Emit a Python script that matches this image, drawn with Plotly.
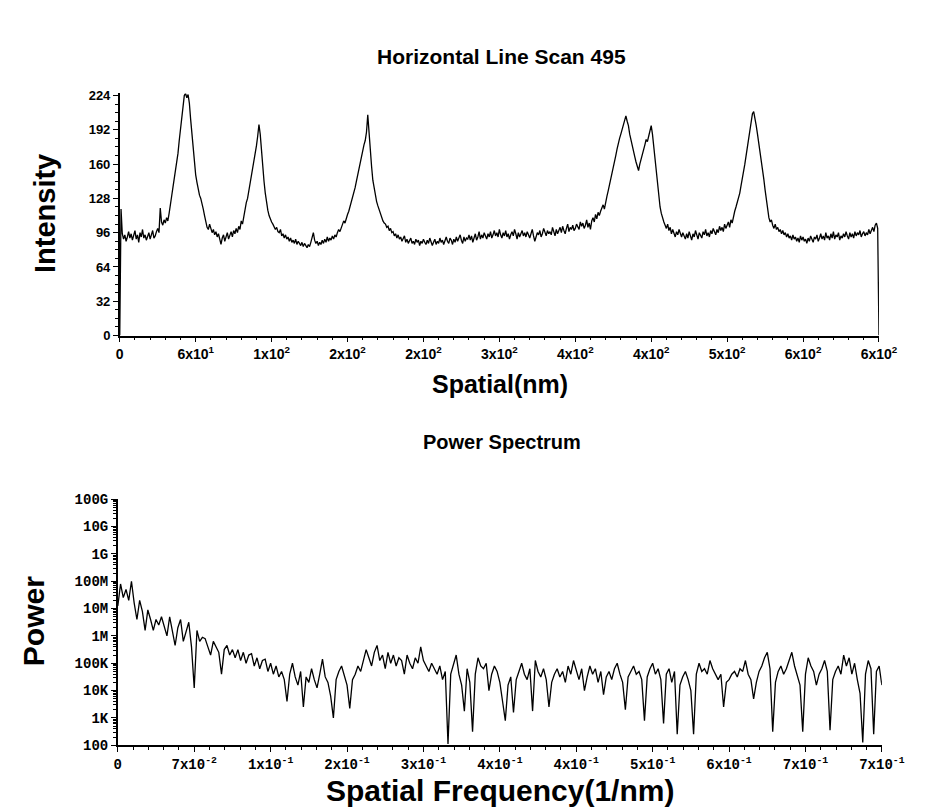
import plotly.graph_objects as go

# ---------------- data: top panel (line scan, 1 nm steps) ----------------
intensity = [
    0, 118, 95, 90, 94, 88, 92, 97, 91, 95, 89, 93, 98, 90, 94, 87, 96, 92, 99, 91,
    94, 89, 92, 96, 90, 95, 98, 91, 93, 97, 100, 96, 119, 106, 103, 108, 105, 110, 107, 114,
    124, 130, 138, 145, 156, 162, 170, 182, 194, 206, 218, 224, 226, 222, 225, 217, 202, 188, 174, 160,
    150, 143, 136, 131, 128, 124, 118, 112, 105, 101, 99, 104, 100, 96, 99, 94, 97, 92, 95, 89,
    85, 91, 94, 88, 92, 96, 90, 94, 97, 92, 98, 95, 100, 96, 102, 99, 107, 104, 112, 117,
    124, 128, 135, 140, 147, 152, 160, 168, 177, 186, 197, 188, 170, 156, 144, 133, 124, 117, 112, 108,
    106, 104, 102, 99, 101, 97, 96, 99, 93, 95, 91, 94, 90, 92, 88, 91, 87, 89, 86, 90,
    85, 88, 86, 84, 87, 83, 86, 84, 82, 85, 83, 87, 92, 96, 89, 86, 88, 84, 87, 85,
    89, 86, 90, 87, 92, 88, 91, 89, 93, 90, 94, 92, 96, 99, 97, 101, 104, 107, 105, 110,
    113, 116, 120, 124, 128, 133, 138, 144, 150, 155, 160, 166, 172, 178, 182, 190, 206, 186, 172, 158,
    145, 137, 130, 125, 121, 117, 113, 110, 107, 105, 104, 101, 102, 98, 100, 96, 97, 93, 95, 91,
    94, 90, 92, 88, 91, 93, 87, 90, 86, 89, 91, 86, 88, 85, 90, 87, 89, 84, 88, 86,
    90, 87, 85, 89, 86, 91, 88, 84, 87, 90, 85, 88, 86, 91, 87, 89, 85, 90, 92, 88,
    86, 91, 89, 85, 90, 87, 92, 88, 91, 94, 89, 86, 92, 88, 91, 90, 94, 89, 93, 87,
    91, 95, 89, 92, 97, 90, 94, 91, 96, 93, 90, 95, 92, 97, 91, 94, 98, 93, 96, 92,
    99, 94, 91, 96, 93, 98, 92, 95, 90, 94, 97, 93, 99, 95, 90, 96, 92, 95, 98, 93,
    96, 92, 97, 94, 91, 95, 99, 93, 88, 92, 96, 94, 98, 92, 95, 100, 96, 93, 98, 95,
    97, 94, 101, 96, 93, 99, 95, 98, 101, 96, 102, 98, 95, 100, 104, 97, 101, 99, 103, 98,
    100, 104, 101, 99, 106, 102, 105, 100, 103, 108, 101, 105, 99, 107, 110, 106, 113, 109, 115, 112,
    116, 119, 122, 118, 126, 130, 135, 140, 146, 150, 155, 162, 168, 174, 180, 184, 188, 192, 196, 200,
    205, 200, 196, 188, 182, 177, 172, 167, 162, 158, 154, 160, 164, 170, 174, 178, 183, 181, 186, 190,
    196, 188, 176, 162, 150, 138, 128, 120, 114, 109, 106, 103, 100, 104, 98, 101, 95, 99, 96, 92,
    97, 94, 99, 95, 92, 96, 93, 90, 95, 91, 97, 93, 89, 95, 92, 98, 94, 90, 96, 93,
    91, 97, 94, 99, 93, 96, 92, 98, 95, 100, 97, 94, 99, 96, 102, 98, 101, 97, 104, 100,
    103, 106, 101, 108, 105, 112, 116, 120, 124, 128, 133, 140, 146, 153, 160, 168, 176, 186, 195, 203,
    207, 209, 204, 196, 188, 180, 172, 165, 156, 146, 136, 126, 116, 110, 106, 108, 103, 100, 104, 99,
    101, 97, 99, 95, 98, 94, 96, 92, 95, 91, 93, 89, 94, 90, 92, 88, 91, 87, 93, 89,
    92, 88, 90, 86, 91, 88, 93, 89, 87, 92, 90, 94, 88, 91, 95, 90, 93, 89, 96, 91,
    93, 89, 95, 91, 97, 90, 94, 92, 96, 89, 93, 91, 95, 92, 97, 93, 90, 96, 92, 95,
    91, 97, 93, 96, 94, 98, 92, 95, 97, 93, 96, 94, 99, 95, 98, 101, 97, 103, 105, 100,
    0,
]
spatial_nm = list(range(len(intensity)))

top_tickvals = [0, 60, 120, 180, 240, 300, 360, 420, 480, 540, 600]
top_ticktext = ["0", "6x10<sup>1</sup>", "1x10<sup>2</sup>", "2x10<sup>2</sup>", "2x10<sup>2</sup>",
                "3x10<sup>2</sup>", "4x10<sup>2</sup>", "4x10<sup>2</sup>", "5x10<sup>2</sup>",
                "6x10<sup>2</sup>", "6x10<sup>2</sup>"]
intensity_ticks = [0, 32, 64, 96, 128, 160, 192, 224]

# ---------------- data: bottom panel (power spectrum, log10 of power) ----------------
power_log10 = [
    7.1, 7.9, 7.4, 7.7, 7.3, 8.0, 7.2, 6.6, 7.3, 6.9, 6.2, 6.95, 6.6, 6.2, 6.6, 6.4, 6.7, 6.3, 6.0, 6.7,
    6.2, 5.65, 6.3, 6.6, 5.8, 6.2, 6.5, 5.6, 4.1, 6.2, 5.8, 5.95, 5.9, 5.6, 5.3, 5.8, 5.6, 5.4, 4.6, 5.5,
    5.65, 5.3, 5.5, 5.2, 5.5, 5.1, 5.4, 5.0, 5.3, 5.35, 4.9, 5.2, 4.8, 5.1, 5.15, 4.7, 5.0, 4.6, 4.9, 4.5,
    4.7, 4.4, 3.6, 4.6, 5.0, 4.5, 4.2, 4.7, 3.4, 4.5, 4.3, 4.8, 4.4, 4.1, 4.6, 5.15, 4.5, 4.3, 3.8, 3.0,
    4.4, 4.7, 4.9, 4.5, 4.2, 3.35, 4.4, 4.6, 4.9, 4.7, 5.1, 5.5, 5.2, 4.9, 5.4, 5.65, 5.1, 5.3, 4.8, 5.4,
    5.0, 5.3, 4.9, 5.2, 5.1, 4.6, 5.3, 5.0, 4.8, 5.2, 5.0, 5.6, 5.1, 4.9, 4.7, 5.0, 4.8, 4.6, 4.9, 4.4,
    4.7, 2.05, 4.6, 5.0, 5.3, 4.6, 4.2, 3.25, 4.8, 4.3, 2.5, 4.6, 5.2, 4.9, 4.8, 5.0, 4.0, 4.6, 4.9, 4.7,
    4.3, 3.6, 2.9, 4.2, 4.5, 3.2, 4.4, 4.7, 5.0, 4.6, 4.4, 4.8, 3.25, 5.1, 4.7, 4.5, 4.8, 4.4, 3.4, 4.3,
    4.6, 4.8, 4.5, 4.7, 4.3, 4.9, 4.6, 5.1, 4.7, 4.4, 4.8, 4.0, 4.5, 4.9, 4.6, 4.8, 4.3, 4.7, 3.85, 4.5,
    4.7, 4.4, 4.8, 5.0, 4.6, 4.3, 3.3, 4.5, 4.7, 4.9, 4.6, 4.7, 4.4, 2.9, 4.5, 4.8, 5.0, 4.6, 4.8, 4.4,
    2.8, 4.6, 4.8, 4.3, 4.7, 2.4, 4.2, 4.5, 4.7, 4.4, 4.0, 2.4, 4.6, 5.0, 4.7, 4.8, 4.6, 5.1, 4.8, 4.6,
    4.4, 4.6, 3.4, 4.3, 4.4, 4.6, 4.7, 4.5, 4.8, 4.7, 5.1, 4.6, 4.4, 3.7, 4.3, 4.7, 4.9, 5.2, 5.4, 4.8,
    2.5, 4.3, 4.7, 4.9, 4.6, 4.8, 5.1, 5.4, 4.9, 4.5, 4.2, 2.5, 4.6, 5.2, 4.9, 4.7, 4.2, 4.6, 4.8, 5.1,
    4.7, 2.55, 4.4, 4.7, 4.9, 4.6, 5.3, 4.9, 5.2, 4.6, 5.0, 4.4, 3.9, 2.1, 4.6, 5.1, 4.8, 2.4, 4.7, 4.9,
    4.2,
]
power = [10 ** v for v in power_log10]
freq = [0.0025 * i for i in range(len(power_log10))]

freq_tickvals = [0, 0.07, 0.14, 0.21, 0.28, 0.35, 0.42, 0.49, 0.56, 0.63, 0.70]
freq_ticktext = ["0", "7x10<sup>-2</sup>", "1x10<sup>-1</sup>", "2x10<sup>-1</sup>", "3x10<sup>-1</sup>",
                 "4x10<sup>-1</sup>", "4x10<sup>-1</sup>", "5x10<sup>-1</sup>", "6x10<sup>-1</sup>",
                 "7x10<sup>-1</sup>", "7x10<sup>-1</sup>"]
power_tickvals = [1e2, 1e3, 1e4, 1e5, 1e6, 1e7, 1e8, 1e9, 1e10, 1e11]
power_ticktext = ["100", "1K", "10K", "100K", "1M", "10M", "100M", "1G", "10G", "100G"]

# ---------------- figure ----------------
W, H = 926, 809
def px_x(p):
    return p / W
def px_y(p):
    return 1 - p / H

fig = go.Figure()
fig.add_trace(go.Scatter(x=spatial_nm, y=intensity, mode="lines",
                         line=dict(color="black", width=1.3), xaxis="x", yaxis="y",
                         showlegend=False, hoverinfo="skip"))
fig.add_trace(go.Scatter(x=freq, y=power, mode="lines",
                         line=dict(color="black", width=1.3), xaxis="x2", yaxis="y2",
                         showlegend=False, hoverinfo="skip"))

sans = "Liberation Sans, Arial"
mono = "Liberation Mono, Courier New, monospace"

axis_common = dict(showgrid=False, zeroline=False, showline=True, linecolor="black",
                   linewidth=1.6, ticks="outside", tickcolor="black", tickwidth=1.3)

fig.update_layout(
    width=W, height=H, margin=dict(l=0, r=0, t=0, b=0),
    paper_bgcolor="white", plot_bgcolor="white",
    xaxis=dict(**axis_common, domain=[px_x(111), px_x(893)], range=[0, 600],
               tickvals=top_tickvals, ticktext=top_ticktext, ticklen=5,
               tickfont=dict(family=sans, size=14, color="black", weight="bold"),
               minor=dict(ticks="outside", dtick=12, tick0=0, ticklen=3, tickcolor="black"),
               anchor="y"),
    yaxis=dict(**axis_common, domain=[px_y(327), px_y(80)], range=[0, 226],
               tickvals=intensity_ticks, ticklen=5,
               tickfont=dict(family=sans, size=13, color="black", weight="bold"),
               minor=dict(ticks="outside", dtick=8, tick0=0, ticklen=3, tickcolor="black"),
               anchor="x"),
    xaxis2=dict(**axis_common, domain=[px_x(109), px_x(896)], range=[0, 0.70],
                tickvals=freq_tickvals, ticktext=freq_ticktext, ticklen=5,
                tickfont=dict(family=mono, size=14, color="black", weight="bold"),
                minor=dict(ticks="outside", dtick=0.014, tick0=0, ticklen=3, tickcolor="black"),
                anchor="y2"),
    yaxis2=dict(**axis_common, type="log", domain=[px_y(745), px_y(494)], range=[2, 11],
                tickvals=power_tickvals, ticktext=power_ticktext, ticklen=5,
                tickfont=dict(family=mono, size=14, color="black", weight="bold"),
                minor=dict(ticks="outside", dtick="D1", ticklen=3, tickcolor="black"),
                anchor="x2"),
)

title_font = dict(family="Liberation Sans, Arial", color="black", weight="bold")
annos = [
    ("Horizontal Line Scan 495", 504, 42, 21, 0),
    ("Spatial(nm)", 503, 376, 25, 0),
    ("Intensity", 34, 203, 29, -90),
    ("Power Spectrum", 505, 436, 20, 0),
    ("Power", 22, 618, 30, -90),
    ("Spatial Frequency(1/nm)", 503, 791, 30, 0),
]
for text, x, y, size, ang in annos:
    fig.add_annotation(text=text, x=px_x(x), y=px_y(y), xref="paper", yref="paper",
                       xanchor="center", yanchor="middle", showarrow=False, textangle=ang,
                       font=dict(size=size, **title_font))

fig.write_html("out.html")
